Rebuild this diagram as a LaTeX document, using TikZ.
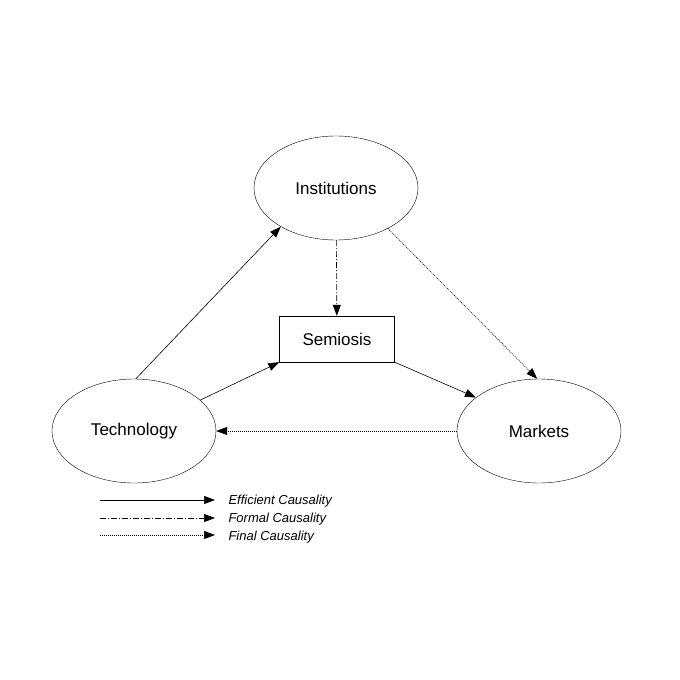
\documentclass[tikz,border=0pt]{standalone}
\usepackage{fontspec}
\setmainfont{Liberation Sans}
\usetikzlibrary{shapes.geometric,arrows.meta}
\begin{document}
\begin{tikzpicture}[x=1pt,y=-1pt,
  ell/.style={draw,ellipse,minimum width=164pt,minimum height=104pt,font=\fontsize{17}{20}\selectfont},
  box/.style={draw,rectangle,minimum width=115pt,minimum height=46pt,font=\fontsize{17}{20}\selectfont},
  arr/.style={-{Triangle[length=11pt,width=8pt]},line width=0.6pt},
  eff/.style={arr},
  form/.style={arr,dash pattern=on 6pt off 2pt on 1pt off 2pt},
  fin/.style={arr,dash pattern=on 1pt off 1pt},
  leg/.style={anchor=west,font=\itshape\fontsize{13}{15}\selectfont}]
\useasboundingbox (0,0) rectangle (680,680);
\node[ell] (inst) at (336,188) {Institutions};
\node[ell] (tech) at (134,431) {Technology};
\node[ell] (mark) at (539,431) {Markets};
\node[box] (sem) at (337,339) {Semiosis};
\draw[eff] (tech.88) -- (inst.215);
\draw[form] (inst) -- (sem);
\draw[fin] (inst.-38) -- (mark.92);
\draw[eff] (tech.25) -- (sem.south west);
\draw[eff] (sem.south east) -- (mark.152);
\draw[fin] (mark.west) -- (tech.east);
\coordinate (l1a) at (100,500); \coordinate (l1b) at (215,500);
\coordinate (l2a) at (100,518); \coordinate (l2b) at (215,518);
\coordinate (l3a) at (100,535); \coordinate (l3b) at (215,535);
\draw[eff] (l1a) -- (l1b);
\draw[form] (l2a) -- (l2b);
\draw[fin] (l3a) -- (l3b);
\node[leg] (t1) at (225,501) {Efficient Causality};
\node[leg] (t2) at (225,519) {Formal Causality};
\node[leg] (t3) at (225,537) {Final Causality};
\end{tikzpicture}
\end{document}
